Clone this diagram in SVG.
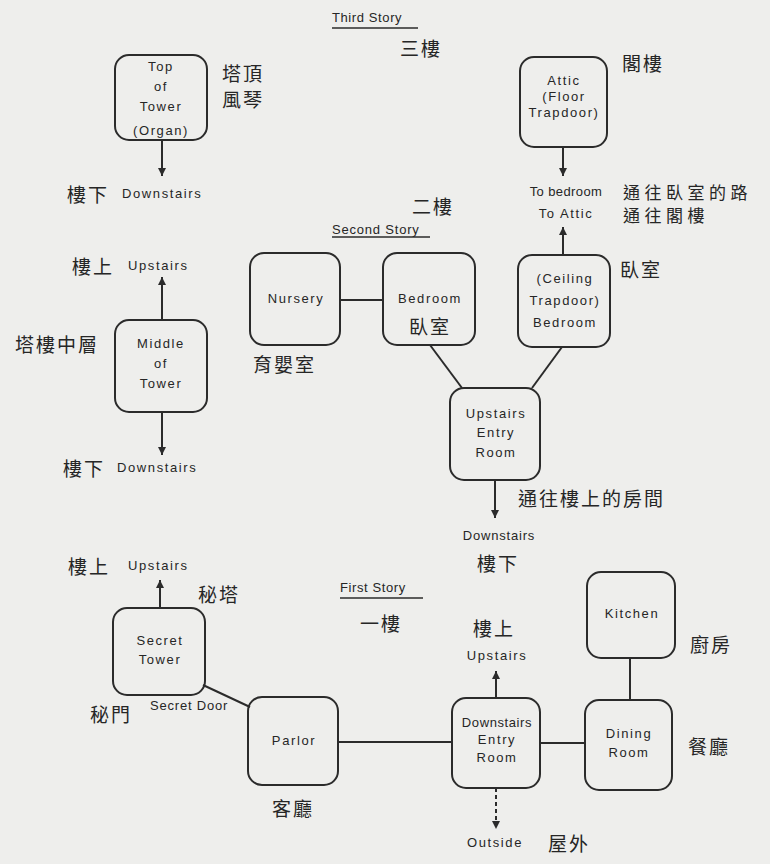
<svg xmlns="http://www.w3.org/2000/svg" width="770" height="864" viewBox="0 0 770 864">
<defs>
<style>
.bg{fill:#eeeeec}
.node rect{fill:none;stroke:#2b2b2b;stroke-width:2}
.en{font-family:"Liberation Sans",Arial,sans-serif;font-size:13px;letter-spacing:1.6px;fill:#262626;dominant-baseline:central}
.c{text-anchor:middle}
.zh{font-family:"Noto Sans CJK TC","Noto Sans CJK SC",sans-serif;font-size:19px;letter-spacing:2px;fill:#262626;dominant-baseline:central}
.zs{font-size:17px;letter-spacing:4.5px}
.ln{stroke:#2b2b2b;stroke-width:2;fill:none}
.arr{marker-end:url(#ah)}
.dash{stroke-dasharray:4 3}
.ul{stroke:#2b2b2b;stroke-width:1.5}
</style>
<marker id="ah" markerUnits="userSpaceOnUse" markerWidth="8" markerHeight="9" refX="9" refY="4.5" viewBox="0 0 9 9" orient="auto">
<path d="M0,0 L9,4.5 L0,9 z" fill="#2b2b2b"/>
</marker>
</defs>
<rect class="bg" x="0" y="0" width="770" height="864"/>

<g id="connectors">
<line class="ln arr" x1="162" y1="140" x2="162" y2="176"/>
<line class="ln arr" x1="162" y1="320" x2="162" y2="277"/>
<line class="ln arr" x1="162" y1="412" x2="162" y2="455"/>
<line class="ln arr" x1="160" y1="608" x2="160" y2="580"/>
<line class="ln" x1="203" y1="685" x2="250" y2="707"/>
<line class="ln arr" x1="563" y1="147" x2="563" y2="176"/>
<line class="ln arr" x1="563" y1="255" x2="563" y2="227"/>
<line class="ln" x1="340" y1="300" x2="383" y2="300"/>
<line class="ln" x1="430" y1="345" x2="462" y2="388"/>
<line class="ln" x1="562" y1="347" x2="532" y2="388"/>
<line class="ln arr" x1="495" y1="480" x2="495" y2="518"/>
<line class="ln" x1="338" y1="742" x2="452" y2="742"/>
<line class="ln arr" x1="496" y1="698" x2="496" y2="671"/>
<line class="ln" x1="540" y1="743" x2="585" y2="743"/>
<line class="ln" x1="630" y1="658" x2="630" y2="700"/>
<line class="ln arr dash" x1="496" y1="788" x2="496" y2="829"/>
</g>

<g id="top-of-tower" class="node">
<rect x="115" y="55" width="92" height="85" rx="14"/>
<text class="en c" x="161" y="66">Top</text>
<text class="en c" x="161" y="86">of</text>
<text class="en c" x="161" y="106">Tower</text>
<text class="en c" x="161" y="130">(Organ)</text>
<text class="zh" x="222" y="72">塔頂</text>
<text class="zh" x="222" y="98">風琴</text>
</g>

<g id="middle-of-tower" class="node">
<rect x="115" y="320" width="92" height="92" rx="14"/>
<text class="en c" x="161" y="343">Middle</text>
<text class="en c" x="161" y="363">of</text>
<text class="en c" x="161" y="383">Tower</text>
<text class="zh" x="15" y="343">塔樓中層</text>
</g>

<g id="secret-tower" class="node">
<rect x="113" y="608" width="92" height="87" rx="14"/>
<text class="en c" x="160" y="640">Secret</text>
<text class="en c" x="160" y="659">Tower</text>
<text class="zh" x="198" y="593">秘塔</text>
<text class="zh" x="90" y="713">秘門</text>
</g>

<g id="parlor" class="node">
<rect x="248" y="697" width="90" height="88" rx="14"/>
<text class="en c" x="294" y="740">Parlor</text>
<text class="zh" x="272" y="807">客廳</text>
</g>

<g id="attic" class="node">
<rect x="520" y="57" width="87" height="90" rx="14"/>
<text class="en c" x="564" y="80">Attic</text>
<text class="en c" x="564" y="96">(Floor</text>
<text class="en c" x="564" y="112">Trapdoor)</text>
<text class="zh" x="622" y="62">閣樓</text>
</g>

<g id="nursery" class="node">
<rect x="250" y="253" width="90" height="92" rx="14"/>
<text class="en c" x="296" y="298">Nursery</text>
<text class="zh" x="253" y="363">育嬰室</text>
</g>

<g id="bedroom" class="node">
<rect x="383" y="253" width="92" height="92" rx="14"/>
<text class="en c" x="430" y="298">Bedroom</text>
<text class="zh c" x="430" y="325">臥室</text>
</g>

<g id="ceiling-bedroom" class="node">
<rect x="518" y="255" width="92" height="92" rx="14"/>
<text class="en c" x="565" y="278">(Ceiling</text>
<text class="en c" x="565" y="300">Trapdoor)</text>
<text class="en c" x="565" y="322">Bedroom</text>
<text class="zh" x="620" y="268">臥室</text>
</g>

<g id="upstairs-entry" class="node">
<rect x="450" y="388" width="90" height="92" rx="14"/>
<text class="en c" x="496" y="413">Upstairs</text>
<text class="en c" x="496" y="432">Entry</text>
<text class="en c" x="496" y="452">Room</text>
<text class="zh" x="518" y="497">通往樓上的房間</text>
</g>

<g id="kitchen" class="node">
<rect x="587" y="572" width="88" height="86" rx="14"/>
<text class="en c" x="632" y="613">Kitchen</text>
<text class="zh" x="690" y="643">廚房</text>
</g>

<g id="dining-room" class="node">
<rect x="585" y="700" width="87" height="90" rx="14"/>
<text class="en c" x="629" y="733">Dining</text>
<text class="en c" x="629" y="752">Room</text>
<text class="zh" x="688" y="745">餐廳</text>
</g>

<g id="downstairs-entry" class="node">
<rect x="452" y="698" width="88" height="90" rx="14"/>
<text class="en c" x="497" y="722" style="letter-spacing:0.6px">Downstairs</text>
<text class="en c" x="497" y="739">Entry</text>
<text class="en c" x="497" y="757">Room</text>
</g>

<g id="labels">
<text class="zh" x="67" y="193">樓下</text>
<text class="en" x="122" y="193">Downstairs</text>
<text class="zh" x="72" y="265">樓上</text>
<text class="en" x="128" y="265">Upstairs</text>
<text class="zh" x="63" y="467">樓下</text>
<text class="en" x="117" y="467">Downstairs</text>
<text class="zh" x="68" y="565">樓上</text>
<text class="en" x="128" y="565">Upstairs</text>
<text class="en" x="150" y="705" style="letter-spacing:0.8px">Secret Door</text>

<text class="en" x="332" y="17" style="letter-spacing:0.6px">Third Story</text>
<line class="ul" x1="332" y1="28" x2="418" y2="28"/>
<text class="zh" x="400" y="47">三樓</text>

<text class="zh" x="412" y="205">二樓</text>
<text class="en" x="332" y="229" style="letter-spacing:0.8px">Second Story</text>
<line class="ul" x1="332" y1="237" x2="430" y2="237"/>

<text class="en c" x="566" y="191" style="letter-spacing:0.4px">To bedroom</text>
<text class="en c" x="566" y="213">To Attic</text>
<text class="zh zs" x="623" y="191">通往臥室的路</text>
<text class="zh zs" x="623" y="214">通往閣樓</text>

<text class="en c" x="499" y="535" style="letter-spacing:0.8px">Downstairs</text>
<text class="zh" x="477" y="562">樓下</text>

<text class="en" x="340" y="587" style="letter-spacing:0.6px">First Story</text>
<line class="ul" x1="340" y1="598" x2="423" y2="598"/>
<text class="zh" x="360" y="622">一樓</text>

<text class="zh" x="473" y="627">樓上</text>
<text class="en c" x="497" y="655">Upstairs</text>

<text class="en" x="467" y="842">Outside</text>
<text class="zh" x="548" y="842">屋外</text>
</g>
</svg>
